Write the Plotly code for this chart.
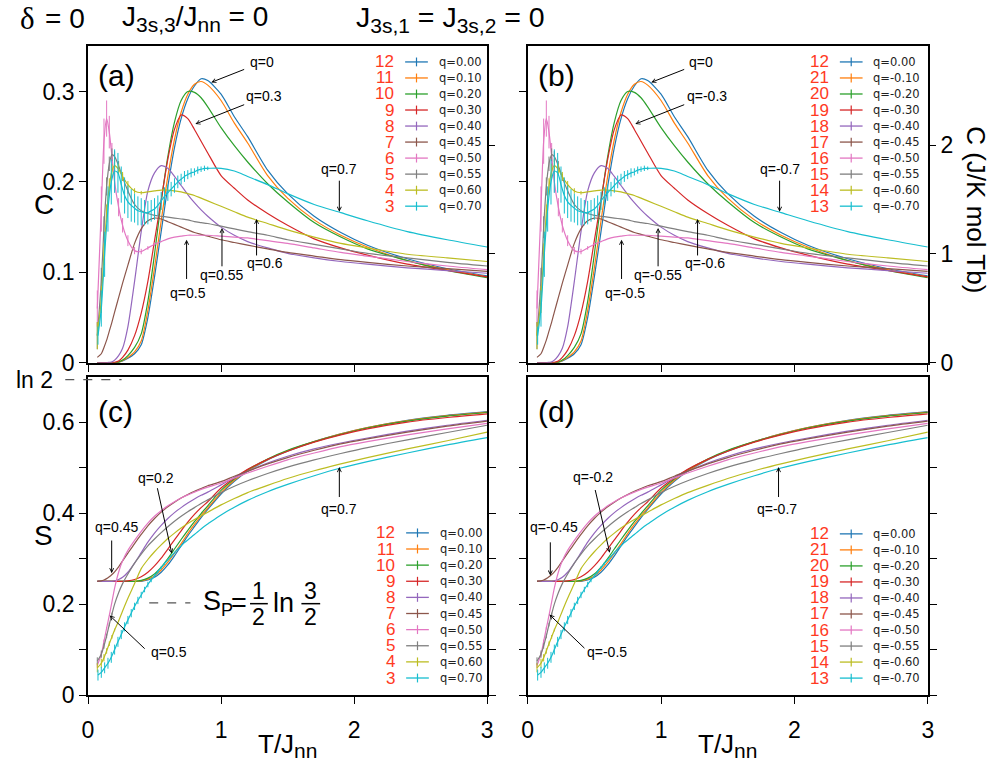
import math
import plotly.graph_objects as go

# ---------------- data ----------------
R_GAS = 8.314
T = [0.07, 0.1, 0.12, 0.14, 0.16, 0.18, 0.2, 0.23, 0.26, 0.3, 0.35, 0.4, 0.45, 0.5, 0.55,
     0.6, 0.65, 0.7, 0.75, 0.8, 0.85, 0.9, 1.0, 1.1, 1.2, 1.35, 1.5, 1.7, 1.9, 2.1, 2.4, 2.7, 3.0]
# finer temperature grid used for the noisy q=0.70 runs
T_FINE = [0.075, 0.1, 0.125, 0.15, 0.175, 0.2, 0.225, 0.25, 0.275, 0.3, 0.325, 0.35, 0.375, 0.4, 0.425,
          0.45, 0.475, 0.5, 0.525, 0.55, 0.575, 0.6, 0.625, 0.65, 0.675, 0.7, 0.725, 0.75, 0.775, 0.8,
          0.825, 0.85, 0.875, 0.9, 1.0, 1.1, 1.2, 1.35, 1.5, 1.7, 1.9, 2.1, 2.4, 2.7, 3.0]

Q_POS = ["q=0.00", "q=0.10", "q=0.20", "q=0.30", "q=0.40", "q=0.45", "q=0.50", "q=0.55", "q=0.60", "q=0.70"]
Q_NEG = ["q=0.00", "q=-0.10", "q=-0.20", "q=-0.30", "q=-0.40", "q=-0.45", "q=-0.50", "q=-0.55", "q=-0.60", "q=-0.70"]
N_POS = ["12", "11", "10", "9", "8", "7", "6", "5", "4", "3"]
N_NEG = ["12", "21", "20", "19", "18", "17", "16", "15", "14", "13"]
COLORS = ["#1f77b4", "#ff7f0e", "#2ca02c", "#d62728", "#9467bd",
          "#8c564b", "#e377c2", "#7f7f7f", "#bcbd22", "#17becf"]

# specific heat C(T)
C_Q000 = [0, 0, 0, 0, 0, 0, 0, 0.0005, 0.002, 0.005, 0.01, 0.02, 0.05, 0.095, 0.145, 0.195, 0.238, 0.27, 0.292,
          0.306, 0.314, 0.312, 0.297, 0.272, 0.25, 0.213, 0.187, 0.162, 0.144, 0.13, 0.115, 0.104, 0.096]
C_Q010 = [0, 0, 0, 0, 0, 0, 0, 0.0006, 0.0025, 0.006, 0.012, 0.024, 0.058, 0.105, 0.157, 0.206, 0.247, 0.277, 0.297,
          0.308, 0.311, 0.307, 0.29, 0.265, 0.243, 0.207, 0.182, 0.158, 0.141, 0.128, 0.113, 0.103, 0.095]
C_Q020 = [0, 0, 0, 0, 0, 0, 0, 0.0008, 0.003, 0.008, 0.017, 0.032, 0.068, 0.12, 0.178, 0.228, 0.266, 0.29, 0.3,
          0.299, 0.293, 0.283, 0.26, 0.24, 0.222, 0.198, 0.178, 0.155, 0.139, 0.126, 0.113, 0.102, 0.094]
C_Q030 = [0, 0, 0, 0, 0, 0, 0.0005, 0.002, 0.006, 0.014, 0.03, 0.055, 0.09, 0.135, 0.18, 0.225, 0.258, 0.274, 0.27,
          0.258, 0.245, 0.232, 0.207, 0.193, 0.18, 0.165, 0.152, 0.137, 0.127, 0.119, 0.109, 0.102, 0.095]
C_Q040 = [0, 0, 0, 0, 0.0005, 0.001, 0.003, 0.008, 0.016, 0.04, 0.09, 0.145, 0.19, 0.21, 0.218, 0.215, 0.206, 0.196,
          0.186, 0.177, 0.169, 0.162, 0.15, 0.141, 0.134, 0.127, 0.121, 0.116, 0.112, 0.109, 0.105, 0.102, 0.099]
C_Q045 = [0.006, 0.01, 0.017, 0.025, 0.035, 0.045, 0.056, 0.072, 0.088, 0.108, 0.132, 0.148, 0.157, 0.16, 0.159,
          0.156, 0.153, 0.15, 0.147, 0.144, 0.142, 0.14, 0.136, 0.133, 0.13, 0.126, 0.122, 0.118, 0.114, 0.111,
          0.107, 0.104, 0.101]
C_Q050 = [0.06, 0.17, 0.245, 0.27, 0.255, 0.228, 0.2, 0.172, 0.152, 0.135, 0.124, 0.123, 0.127, 0.131, 0.134,
          0.137, 0.139, 0.14, 0.141, 0.141, 0.141, 0.141, 0.14, 0.139, 0.138, 0.135, 0.132, 0.127, 0.122, 0.118,
          0.112, 0.107, 0.103]
C_Q055 = [0.03, 0.09, 0.15, 0.195, 0.22, 0.23, 0.228, 0.218, 0.205, 0.19, 0.175, 0.168, 0.165, 0.163, 0.162,
          0.161, 0.16, 0.159, 0.158, 0.156, 0.155, 0.154, 0.151, 0.148, 0.145, 0.141, 0.136, 0.131, 0.126, 0.121,
          0.116, 0.111, 0.107]
C_Q060 = [0.03, 0.07, 0.12, 0.165, 0.195, 0.212, 0.218, 0.214, 0.206, 0.197, 0.19, 0.188, 0.189, 0.19, 0.191,
          0.191, 0.19, 0.189, 0.187, 0.185, 0.182, 0.179, 0.173, 0.167, 0.161, 0.154, 0.147, 0.139, 0.132, 0.127,
          0.12, 0.116, 0.112]
# q=0.70 on T_FINE
C_Q070 = [0.03, 0.06, 0.12, 0.17, 0.2, 0.212, 0.21, 0.197, 0.185, 0.178, 0.174, 0.171, 0.168, 0.167, 0.166,
          0.166, 0.168, 0.17, 0.174, 0.179, 0.184, 0.188, 0.192, 0.196, 0.2, 0.203, 0.206, 0.208, 0.21, 0.211,
          0.213, 0.214, 0.215, 0.215, 0.215, 0.212, 0.206, 0.197, 0.187, 0.175, 0.166, 0.157, 0.145, 0.136, 0.128]

# error bars on C (Monte-Carlo noise, low T)
EC_Q050 = [0.02, 0.025, 0.025, 0.02, 0.018, 0.015, 0.012, 0.01, 0.008, 0.006, 0.004, 0.003, 0.002, 0.002] + [0] * 19
EC_Q055 = [0.015, 0.015, 0.012, 0.01, 0.008, 0.007, 0.006, 0.005, 0.004, 0.003, 0.002] + [0] * 22
EC_Q060 = [0.015, 0.015, 0.012, 0.01, 0.009, 0.008, 0.007, 0.006, 0.005, 0.004, 0.003, 0.002] + [0] * 21
EC_Q070 = [0.01, 0.02, 0.025, 0.025, 0.025, 0.024, 0.022, 0.02, 0.02, 0.018, 0.018, 0.016, 0.016, 0.015, 0.014,
           0.013, 0.012, 0.012, 0.011, 0.01, 0.01, 0.009, 0.008, 0.008, 0.007, 0.006, 0.006, 0.005, 0.005, 0.004,
           0.004, 0.003, 0.003, 0.002] + [0] * 11

# entropy S(T)
S_Q000 = [0.25] * 12 + [0.253, 0.259, 0.27, 0.286, 0.306, 0.328, 0.35, 0.37, 0.39, 0.408, 0.442, 0.47, 0.492,
                        0.517, 0.536, 0.557, 0.574, 0.588, 0.604, 0.615, 0.623]
S_Q010 = [0.25] * 11 + [0.251, 0.255, 0.262, 0.275, 0.292, 0.312, 0.333, 0.355, 0.375, 0.394, 0.411, 0.445, 0.472,
                        0.493, 0.518, 0.537, 0.557, 0.574, 0.588, 0.603, 0.614, 0.622]
S_Q020 = [0.25] * 11 + [0.252, 0.257, 0.266, 0.281, 0.3, 0.321, 0.342, 0.362, 0.381, 0.399, 0.416, 0.45, 0.475,
                        0.495, 0.519, 0.538, 0.557, 0.573, 0.587, 0.602, 0.613, 0.621]
S_Q030 = [0.25] * 9 + [0.251, 0.254, 0.26, 0.27, 0.284, 0.301, 0.321, 0.341, 0.361, 0.38, 0.397, 0.412, 0.425,
                       0.455, 0.477, 0.496, 0.518, 0.536, 0.556, 0.572, 0.585, 0.6, 0.61, 0.618]
S_Q040 = [0.25] * 6 + [0.251, 0.254, 0.259, 0.27, 0.29, 0.313, 0.336, 0.356, 0.373, 0.388, 0.401, 0.412, 0.422,
                       0.431, 0.439, 0.446, 0.462, 0.478, 0.492, 0.51, 0.525, 0.541, 0.554, 0.565, 0.58, 0.593, 0.604]
S_Q045 = [0.25, 0.251, 0.253, 0.256, 0.26, 0.265, 0.271, 0.282, 0.295, 0.312, 0.333, 0.353, 0.372, 0.388, 0.402,
          0.414, 0.424, 0.433, 0.441, 0.448, 0.454, 0.46, 0.469, 0.481, 0.492, 0.508, 0.522, 0.538, 0.552, 0.563,
          0.578, 0.591, 0.602]
S_Q050 = [0.065, 0.09, 0.118, 0.147, 0.175, 0.205, 0.235, 0.27, 0.295, 0.318, 0.34, 0.36, 0.378, 0.393, 0.405,
          0.416, 0.425, 0.433, 0.44, 0.446, 0.452, 0.457, 0.466, 0.477, 0.488, 0.503, 0.517, 0.532, 0.546, 0.557,
          0.572, 0.585, 0.597]
S_Q055 = [0.075, 0.09, 0.108, 0.13, 0.155, 0.178, 0.2, 0.225, 0.245, 0.266, 0.29, 0.31, 0.328, 0.343, 0.357, 0.37,
          0.382, 0.393, 0.403, 0.412, 0.421, 0.429, 0.445, 0.459, 0.471, 0.487, 0.501, 0.517, 0.531, 0.544, 0.561,
          0.577, 0.593]
S_Q060 = [0.06, 0.07, 0.082, 0.097, 0.113, 0.128, 0.143, 0.163, 0.185, 0.213, 0.245, 0.278, 0.298, 0.315, 0.33,
          0.344, 0.356, 0.367, 0.377, 0.386, 0.394, 0.402, 0.418, 0.432, 0.445, 0.461, 0.476, 0.493, 0.508, 0.522,
          0.541, 0.559, 0.578]
# q=0.70 on T_FINE
S_Q070 = [0.044, 0.05, 0.06, 0.07, 0.083, 0.1, 0.117, 0.133, 0.15, 0.165, 0.18, 0.195, 0.208, 0.22, 0.232, 0.243,
          0.253, 0.262, 0.271, 0.28, 0.289, 0.297, 0.305, 0.313, 0.321, 0.328, 0.335, 0.341, 0.347, 0.353, 0.359,
          0.365, 0.371, 0.376, 0.396, 0.413, 0.428, 0.447, 0.463, 0.482, 0.499, 0.513, 0.532, 0.55, 0.566]

ES_Q050 = [0.005, 0.005, 0.004, 0.003] + [0] * 29
ES_Q055 = [0.008, 0.008, 0.006, 0.005, 0.004, 0.003] + [0] * 27
ES_Q060 = [0.01, 0.01, 0.008, 0.006, 0.005, 0.004, 0.003, 0.002] + [0] * 25
ES_Q070 = [0.012, 0.012, 0.012, 0.012, 0.012, 0.011, 0.011, 0.01, 0.01, 0.009, 0.009, 0.008, 0.008, 0.007,
           0.006, 0.006, 0.005, 0.004, 0.004, 0.003, 0.003, 0.002, 0.002, 0.002] + [0] * 21

C_SERIES = [C_Q000, C_Q010, C_Q020, C_Q030, C_Q040, C_Q045, C_Q050, C_Q055, C_Q060, C_Q070]
S_SERIES = [S_Q000, S_Q010, S_Q020, S_Q030, S_Q040, S_Q045, S_Q050, S_Q055, S_Q060, S_Q070]
T_SERIES = [T] * 9 + [T_FINE]
C_ERR = [None, None, None, None, None, None, EC_Q050, EC_Q055, EC_Q060, EC_Q070]
S_ERR = [None, None, None, None, None, None, ES_Q050, ES_Q055, ES_Q060, ES_Q070]

S_P = 0.5 * math.log(1.5)
LN2 = math.log(2)

# ---------------- geometry ----------------
W, H = 998, 773
def px(x):
    return x / W
def py(y):
    return 1 - y / H

LEFT = (83, 487)
RIGHT = (528, 933)
TOP = (47, 369)
BOT = (383, 707)
RED = "#ff3a1f"
FONT = "Liberation Sans"

fig = go.Figure()

def add_curves(xa, ya, series, errs):
    for tt, vals, err, col in zip(T_SERIES, series, errs, COLORS):
        tr = dict(x=tt, y=vals, xaxis=xa, yaxis=ya, mode="lines",
                  line=dict(color=col, width=1.2, shape="spline", smoothing=0.7),
                  showlegend=False, hoverinfo="skip")
        if err is not None:
            tr["error_y"] = dict(type="data", array=err, visible=True, color=col, thickness=1, width=0)
        fig.add_trace(go.Scatter(**tr))

add_curves("x", "y", C_SERIES, C_ERR)
add_curves("x2", "y2", C_SERIES, C_ERR)
add_curves("x3", "y3", S_SERIES, S_ERR)
add_curves("x4", "y4", S_SERIES, S_ERR)
# invisible carriers for the right-hand C (J/K mol Tb) axes
for xa, ya in (("x", "y5"), ("x2", "y6")):
    fig.add_trace(go.Scatter(x=T, y=[c * R_GAS for c in C_Q000], xaxis=xa, yaxis=ya, mode="lines",
                             line=dict(width=0), opacity=0, showlegend=False, hoverinfo="skip"))

tickfont = dict(family=FONT, size=23, color="black")
base = dict(showline=True, linecolor="black", linewidth=1.6, showgrid=False, zeroline=False,
            ticks="outside", ticklen=7, tickwidth=1.4, tickcolor="black", tickfont=tickfont)

def xax(dom, anchor, labels):
    d = dict(base)
    d.update(domain=[px(dom[0]), px(dom[1])], anchor=anchor, range=[0, 3], mirror=True,
             tickvals=[0, 1, 2, 3], showticklabels=labels, ticklabelstandoff=6)
    return d

def yax(dom, anchor, rng, vals, text, mirror):
    d = dict(base)
    d.update(domain=[py(dom[1]), py(dom[0])], anchor=anchor, range=rng, mirror=mirror,
             tickvals=vals, ticktext=text)
    return d

C_TV = [0, 0.1, 0.2, 0.3]
S_TV = [0, 0.1, 0.2, 0.3, 0.4, 0.5, 0.6]
layout = dict(
    width=W, height=H, margin=dict(l=0, r=0, t=0, b=0),
    paper_bgcolor="white", plot_bgcolor="white",
    xaxis=xax(LEFT, "y", False),
    xaxis2=xax(RIGHT, "y2", False),
    xaxis3=xax(LEFT, "y3", True),
    xaxis4=xax(RIGHT, "y4", True),
    yaxis=yax(TOP, "x", [0, 0.35], C_TV, ["0", "0.1", "0.2", "0.3"], True),
    yaxis2=yax(TOP, "x2", [0, 0.35], C_TV, ["", "", "", ""], True),
    yaxis3=yax(BOT, "x3", [0, 0.7], S_TV, ["0", "", "0.2", "", "0.4", "", "0.6"], "allticks"),
    yaxis4=yax(BOT, "x4", [0, 0.7], S_TV, [""] * 7, "allticks"),
    yaxis5=dict(overlaying="y", anchor="x", side="right", range=[0, 0.35 * R_GAS], tickvals=[0, 1, 2],
                showticklabels=False, ticks="outside", ticklen=7, tickwidth=1.4, tickcolor="black",
                showline=False, showgrid=False, zeroline=False),
    yaxis6=dict(overlaying="y2", anchor="x2", side="right", range=[0, 0.35 * R_GAS], tickvals=[0, 1, 2],
                ticktext=["0", "1", "2"], ticks="outside", ticklen=7, tickwidth=1.4, tickcolor="black",
                tickfont=tickfont, showline=False, showgrid=False, zeroline=False),
)

annotations = []
shapes = []

def ann(x, y, text, size, family=FONT, color="black", **kw):
    d = dict(x=px(x), y=py(y), xref="paper", yref="paper", text=text, showarrow=False,
             font=dict(family=family, size=size, color=color))
    d.update(kw)
    annotations.append(d)

SUB = '<sub><span style="font-size:21px">%s</span></sub>'

# header
ann(12, 19, "δ", 31, family="Liberation Serif", xanchor="left", yanchor="middle")
ann(37, 19, "= 0", 28, xanchor="left", yanchor="middle")
ann(115, 19, "J" + SUB % "3s,3" + "/J" + SUB % "nn" + " = 0", 28, xanchor="left", yanchor="middle")
ann(352, 19, "J" + SUB % "3s,1" + " = J" + SUB % "3s,2" + " = 0", 28.5, xanchor="left", yanchor="middle")

# axis titles
ann(38, 208, "C", 28, xanchor="center", yanchor="middle")
ann(38, 545, "S", 28, xanchor="center", yanchor="middle")
ann(981, 213, "C (J/K mol Tb)", 26, textangle=90, xanchor="center", yanchor="middle")
ann((LEFT[0] + LEFT[1]) / 2, 758, "T/J" + SUB % "nn", 26, xanchor="center", yanchor="middle")
ann((RIGHT[0] + RIGHT[1]) / 2, 758, "T/J" + SUB % "nn", 26, xanchor="center", yanchor="middle")

# panel tags
for (x0, y0), tag in zip([(LEFT[0], 77), (RIGHT[0], 77), (LEFT[0], 419), (RIGHT[0], 419)],
                         ["(a)", "(b)", "(c)", "(d)"]):
    ann(x0 + 8, y0, tag, 30, xanchor="left", yanchor="middle")

# ln 2 marker and S_P marker
annotations.append(dict(x=px(50), y=LN2, xref="paper", yref="y3", text="ln 2", showarrow=False,
                        xanchor="right", yanchor="middle", font=dict(family=FONT, size=23, color="black")))
shapes.append(dict(type="line", xref="paper", yref="y3", x0=px(60), x1=px(117), y0=LN2, y1=LN2,
                   line=dict(color="#555", width=1.2, dash="dash")))
shapes.append(dict(type="line", xref="x3", yref="y3", x0=0.46, x1=0.77, y0=S_P, y1=S_P,
                   line=dict(color="#555", width=1.2, dash="dash")))
ann(197, 613, "S" + '<sub><span style="font-size:18px">P</span></sub>', 27, xanchor="left", yanchor="middle")
ann(236, 613, "=", 27, xanchor="center", yanchor="middle")
ann(256, 601, "1", 23, xanchor="center", yanchor="middle")
ann(256, 628, "2", 23, xanchor="center", yanchor="middle")
ann(281, 613, "ln", 27, xanchor="center", yanchor="middle")
ann(308, 601, "3", 23, xanchor="center", yanchor="middle")
ann(308, 628, "2", 23, xanchor="center", yanchor="middle")
for a, b in ((247, 265), (299, 318)):
    shapes.append(dict(type="line", xref="paper", yref="paper", x0=px(a), x1=px(b), y0=py(614), y1=py(614),
                       line=dict(color="black", width=1.5)))

# legends
def legend(xr, y0, step, nums, labels):
    for i, (n, lab, col) in enumerate(zip(nums, labels, COLORS)):
        yy = y0 + i * step
        ann(xr, yy, n, 17, color=RED, xanchor="right", yanchor="middle")
        shapes.append(dict(type="line", xref="paper", yref="paper", x0=px(xr + 9), x1=px(xr + 32),
                           y0=py(yy), y1=py(yy), line=dict(color=col, width=1.3)))
        shapes.append(dict(type="line", xref="paper", yref="paper", x0=px(xr + 20.5), x1=px(xr + 20.5),
                           y0=py(yy - 4.5), y1=py(yy + 4.5), line=dict(color=col, width=1.2)))
        ann(xr + 41, yy, lab, 11.5, family="DejaVu Sans", color="#222", xanchor="left", yanchor="middle")

legend(395, 63, 16.3, N_POS, Q_POS)
legend(835, 63, 16.3, N_NEG, Q_NEG)
legend(396, 542, 16.4, N_POS, Q_POS)
legend(835, 543, 16.3, N_NEG, Q_NEG)

# pointer labels (text position, arrow tail, arrow tip) in data coordinates
PTR_A = [("q=0", (1.311, 0.333), (1.185, 0.325), (0.926, 0.31)),
         ("q=0.3", (1.326, 0.295), (1.185, 0.286), (0.807, 0.264)),
         ("q=0.7", (1.889, 0.214), (1.889, 0.203), (1.889, 0.167)),
         ("q=0.6", (1.333, 0.110), (1.267, 0.117), (1.267, 0.159)),
         ("q=0.55", (1.007, 0.097), (1.007, 0.105), (1.007, 0.149)),
         ("q=0.5", (0.748, 0.077), (0.741, 0.091), (0.741, 0.136))]
PTR_B = [("q=0", (1.296, 0.333), (1.185, 0.325), (0.926, 0.31)),
         ("q=-0.3", (1.348, 0.295), (1.185, 0.286), (0.807, 0.264)),
         ("q=-0.7", (1.889, 0.214), (1.889, 0.203), (1.889, 0.167)),
         ("q=-0.6", (1.326, 0.110), (1.274, 0.117), (1.274, 0.159)),
         ("q=-0.55", (0.978, 0.097), (0.978, 0.105), (0.978, 0.149)),
         ("q=-0.5", (0.733, 0.077), (0.704, 0.091), (0.704, 0.136))]
PTR_C = [("q=0.2", (0.511, 0.477), (0.519, 0.458), (0.63, 0.311)),
         ("q=0.45", (0.215, 0.369), (0.178, 0.343), (0.178, 0.268)),
         ("q=0.7", (1.889, 0.408), (1.889, 0.432), (1.889, 0.501)),
         ("q=0.5", (0.607, 0.095), (0.437, 0.099), (0.163, 0.175))]
PTR_D = [("q=-0.2", (0.489, 0.479), (0.504, 0.454), (0.615, 0.313)),
         ("q=-0.45", (0.2, 0.369), (0.17, 0.339), (0.17, 0.263)),
         ("q=-0.7", (1.867, 0.408), (1.881, 0.432), (1.881, 0.501)),
         ("q=-0.5", (0.593, 0.095), (0.437, 0.1), (0.163, 0.177))]

for ptrs, xr, yr in ((PTR_A, "x", "y"), (PTR_B, "x2", "y2"), (PTR_C, "x3", "y3"), (PTR_D, "x4", "y4")):
    for text, pos, tail, tip in ptrs:
        annotations.append(dict(xref=xr, yref=yr, x=pos[0], y=pos[1], text=text, showarrow=False,
                                xanchor="center", yanchor="middle",
                                font=dict(family=FONT, size=14, color="black")))
        annotations.append(dict(xref=xr, yref=yr, axref=xr, ayref=yr, x=tip[0], y=tip[1],
                                ax=tail[0], ay=tail[1], text="", showarrow=True, arrowhead=5,
                                arrowsize=0.8, arrowwidth=1, arrowcolor="black"))

layout["annotations"] = annotations
layout["shapes"] = shapes
fig.update_layout(**layout)
fig.write_html("out.html")
